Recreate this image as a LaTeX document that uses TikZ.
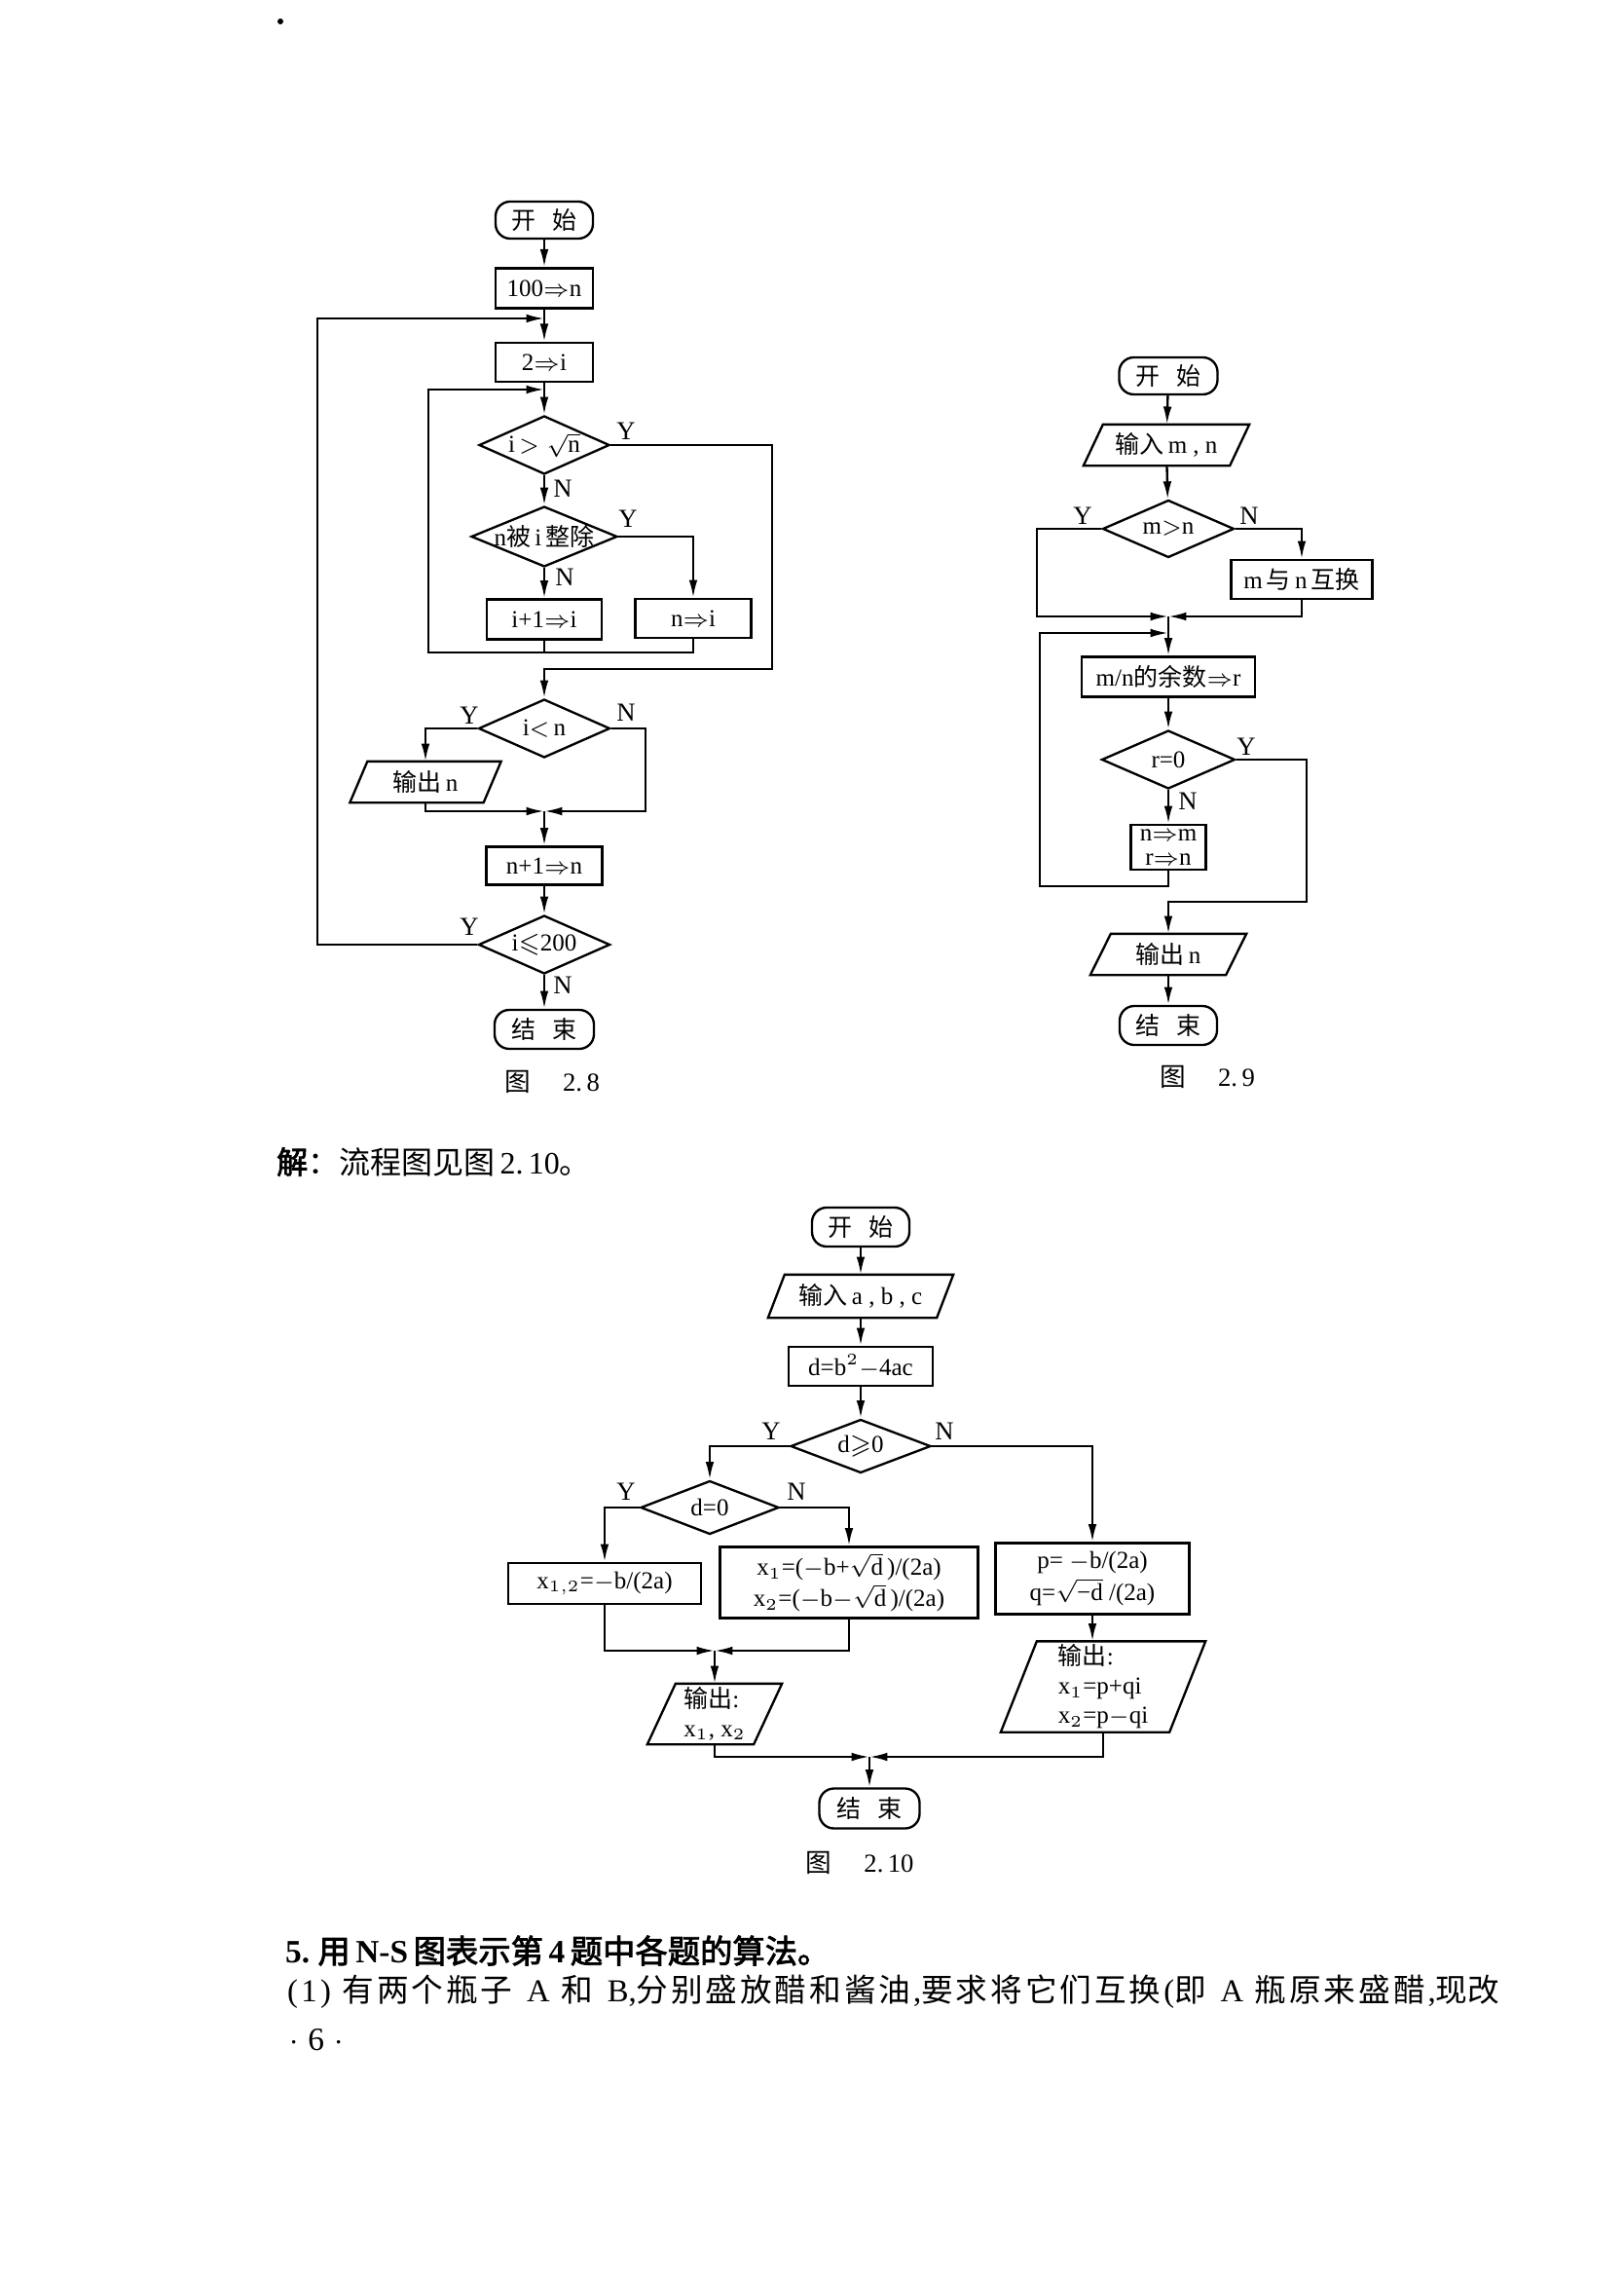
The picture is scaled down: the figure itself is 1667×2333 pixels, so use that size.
\documentclass[tikz,border=0pt]{standalone}
\usepackage{fontspec}
\usepackage{amssymb}
\setmainfont{Liberation Serif}
\newfontfamily\cjk[AutoFakeBold=2.5]{Noto Sans CJK SC}
\usetikzlibrary{shapes.geometric,arrows.meta,calc}
\newcommand\zh[1]{{\cjk #1}}
\makeatletter
\newcommand\zs[1]{{\cjk\@tfor\zz:=#1\do{\zz\hskip0pt plus 1pt\relax}}}
\makeatother
\newcommand\mkpara[7]{%
  \node[txt, align=left, wh={#4}{#5}] (#1) at (#2,#3) {#7};
  \draw ($(#1.north west)+(#6,0)$) -- (#1.north east) -- ($(#1.south east)+(-#6,0)$) -- (#1.south west) -- cycle;}
\tikzset{
  wh/.style 2 args={minimum width=#1*0.3pt, minimum height=#2*0.3pt},
  proc/.style={draw, rectangle, inner sep=0pt, align=center},
  term/.style={draw, rectangle, rounded corners=4.5pt, inner sep=0pt},
  dec/.style={draw, diamond, inner sep=0pt},
  txt/.style={inner sep=0pt},
  yn/.style={inner sep=0pt, font=\fontsize{8}{9}\selectfont},
  capt/.style={inner sep=0pt, font=\fontsize{8}{9}\selectfont},
  body/.style={inner sep=0pt, anchor=west, font=\fontsize{9.6}{11}\selectfont}
}
\begin{document}
\begin{tikzpicture}[x=0.3pt, y=-0.3pt, line width=0.7pt,
  font=\fontsize{7.5}{9}\selectfont, >={Latex[length=5.5pt,width=2.6pt]}]
\useasboundingbox (0,0) rectangle (1667,2333);
\fill (288,22) circle (3);

% ================= Fig 2.8 =================
\node[term, wh={100}{38}] (s8) at (559,226) {\zh{开\hspace{5pt}始}};
\node[proc, wh={100}{41}] (a8) at (559,296) {100$\Rightarrow$n};
\node[proc, wh={100}{40}] (b8) at (559,372) {2$\Rightarrow$i};
\node[dec, wh={134}{60}, label=center:{i\,$>\sqrt{\mathrm{n}}$}] (d81) at (559,457) {};
\node[dec, wh={150}{62}, label=center:{n\zh{被}\,i\,\zh{整除}}] (d82) at (559,551) {};
\node[proc, wh={118}{41}] (c8) at (559,636) {i+1$\Rightarrow$i};
\node[proc, wh={119}{40}] (e8) at (712,635) {n$\Rightarrow$i};
\node[dec, wh={135}{60}, label=center:{i$<$\,n}] (d83) at (559,748) {};
\mkpara{o8}{437}{803}{153}{40}{18}{\zh{输出}\,n}
\node[proc, wh={119}{39}] (f8) at (559,889) {n+1$\Rightarrow$n};
\node[dec, wh={135}{60}, label=center:{i$\leqslant$200}] (d84) at (559,970) {};
\node[term, wh={102}{40}] (t8) at (559,1057) {\zh{结\hspace{5pt}束}};
\node[capt] (cap8) at (567,1111) {\zh{图}\hspace{10pt}2.\,8};

\coordinate (J0) at (559,327);
\coordinate (J81) at (559,400);
\coordinate (L8) at (440,670);
\coordinate (J83) at (559,833);

\draw[->] (s8) -- (a8);
\draw[->] (a8) -- (b8);
\draw[->] (b8) -- (d81);
\draw[->] (d81) -- (d82);
\draw[->] (d82) -- (c8);
\draw[->] (d82.east) -| (e8.north);
\draw[->] (d81.east) -- (793,457) -- (793,687) -| (d83.north);
\draw (c8.south) -- (c8.south |- L8);
\draw[->] (e8.south) |- (L8) |- (J81);
\draw[->] (d83.west) -| (o8.north);
\draw[->] (d83.east) -- (663,748) |- (J83);
\draw[->] (o8.south) |- (J83);
\draw[->] (J83) -- (f8);
\draw[->] (f8) -- (d84);
\draw[->] (d84.west) -- (326,970) |- (J0);
\draw[->] (d84) -- (t8);

\node[yn] (y81) at (643,443) {Y};
\node[yn] (n81) at (578,502) {N};
\node[yn] (y82) at (645,533) {Y};
\node[yn] (n82) at (580,593) {N};
\node[yn] (y83) at (482,735) {Y};
\node[yn] (n83) at (643,732) {N};
\node[yn] (y84) at (482,952) {Y};
\node[yn] (n84) at (578,1012) {N};

% ================= Fig 2.9 =================
\node[term, wh={101}{38}] (s9) at (1200,386) {\zh{开\hspace{5pt}始}};
\mkpara{i9}{1198}{457}{168}{40}{20}{\zh{输入}\,m , n}
\node[dec, wh={135}{59}, label=center:{m$>$n}] (d91) at (1200,543) {};
\node[proc, wh={145}{40}] (x9) at (1337,595) {m\,\zh{与}\,n\,\zh{互换}};
\coordinate (J91) at (1200,633);
\coordinate (J92) at (1200,650);
\node[proc, wh={178}{41}] (m9) at (1200,695) {m/n\zh{的余数}$\Rightarrow$r};
\node[dec, wh={137}{60}, label=center:{r=0}] (d92) at (1200,780) {};
\node[proc, wh={77}{46}, font=\fontsize{7.5}{7.4}\selectfont] (n9) at (1200,870) {n$\Rightarrow$m\\r$\Rightarrow$n};
\coordinate (K9) at (1200,926);
\mkpara{o9}{1200}{980}{158}{40}{21}{\zh{输出}\,n}
\node[term, wh={100}{40}] (t9) at (1200,1053) {\zh{结\hspace{5pt}束}};
\node[capt] (cap9) at (1240,1106) {\zh{图}\hspace{10pt}2.\,9};

\draw[->] (s9) -- (i9);
\draw[->] (i9) -- (d91);
\draw[->] (d91.west) -- (1065,543) |- (J91);
\draw[->] (d91.east) -| (x9.north);
\draw[->] (x9.south) |- (J91);
\draw[->] (J91) -- (m9);
\draw[->] (m9) -- (d92);
\draw[->] (d92) -- (n9);
\draw[->] (d92.east) -- (1342,780) |- (K9) -- (o9.north);
\draw[->] (n9.south) |- (1068,910) |- (J92);
\draw[->] (o9) -- (t9);

\node[yn] (y91) at (1112,530) {Y};
\node[yn] (n91) at (1283,530) {N};
\node[yn] (y92) at (1280,767) {Y};
\node[yn] (n92) at (1220,823) {N};

% ================= text =================
\node[body] (sol) at (283,1193) {{\cjk\bfseries 解}\zh{：流程图见图}\,2.\,10\zh{。}};

% ================= Fig 2.10 =================
\node[term, wh={100}{40}] (s10) at (884,1260) {\zh{开\hspace{5pt}始}};
\mkpara{i10}{884}{1331}{188}{42}{17}{\zh{输入}\,a , b , c}
\node[proc, wh={148}{40}] (dd) at (884,1403) {d=b$^2-$4ac};
\node[dec, wh={144}{55}, label=center:{d$\geqslant$0}] (d101) at (884,1485) {};
\node[dec, wh={142}{55}, label=center:{d=0}] (d102) at (729,1548) {};
\node[proc, wh={198}{42}] (x12) at (621,1626) {$\mathrm{x}_{1,2}$=$-$b/(2a)};
\node[proc, wh={265}{73}, font=\fontsize{7.5}{9.6}\selectfont] (x1x2) at (872,1625)
  {$\mathrm{x}_1$=($-$b+$\sqrt{\mathrm{d}}$\,)/(2a)\\$\mathrm{x}_2$=($-$b$-\sqrt{\mathrm{d}}$\,)/(2a)};
\node[proc, wh={199}{73}, font=\fontsize{7.5}{10}\selectfont] (pq) at (1122,1621)
  {p= $-$b/(2a)\\q=$\sqrt{\mbox{−d}}$\ /(2a)};
\coordinate (J101) at (734,1695);
\mkpara{o101}{734}{1760}{136}{60}{29}{\zh{输出}:\\$\mathrm{x}_1$, $\mathrm{x}_2$}
\mkpara{o102}{1133}{1732}{208}{91}{37}{\zh{输出}:\\$\mathrm{x}_1$=p+qi\\$\mathrm{x}_2$=p$-$qi}
\coordinate (J102) at (893,1804);
\node[term, wh={103}{41}] (t10) at (893,1857) {\zh{结\hspace{5pt}束}};
\node[capt] (cap10) at (883,1913) {\zh{图}\hspace{10pt}2.\,10};

\draw[->] (s10) -- (i10);
\draw[->] (i10) -- (dd);
\draw[->] (dd) -- (d101);
\draw[->] (d101.west) -| (d102.north);
\draw[->] (d101.east) -| (pq.north);
\draw[->] (d102.west) -| (x12.north);
\draw[->] (d102.east) -| (x1x2.north);
\draw[->] (x12.south) |- (J101);
\draw[->] (x1x2.south) |- (J101);
\draw[->] (J101) -- (o101.north);
\draw[->] (pq.south) -- (pq.south |- o102.north);
\draw[->] (o101.south) |- (J102);
\draw[->] (o102.south) |- (J102);
\draw[->] (J102) -- (t10);

\node[yn] (y101) at (792,1470) {Y};
\node[yn] (n101) at (970,1470) {N};
\node[yn] (y102) at (643,1532) {Y};
\node[yn] (n102) at (818,1532) {N};

% ================= bottom text =================
\node[body, font=\fontsize{10}{12}\selectfont] (q5) at (292,2003) {\bfseries 5.\ {\cjk\bfseries 用}\,N-S\,{\cjk\bfseries 图表示第}\,4\,{\cjk\bfseries 题中各题的算法。}};
\node[body, font=\fontsize{9.8}{11}\selectfont] (q51) at (294,2045) {%
  \makebox[373.5pt][s]{(\hspace{1pt}1\hspace{1pt}) \zs{有两个瓶子} A \zs{和} B,\zs{分别盛放醋和酱油},\zs{要求将它们互换}(\zs{即} A \zs{瓶原来盛醋},\zh{现改}}};
\node[body, font=\fontsize{10}{12}\selectfont] (pg) at (296,2095) {\textbf{$\cdot$}\hspace{3pt}6\hspace{3pt}\textbf{$\cdot$}};
\end{tikzpicture}
\end{document}
